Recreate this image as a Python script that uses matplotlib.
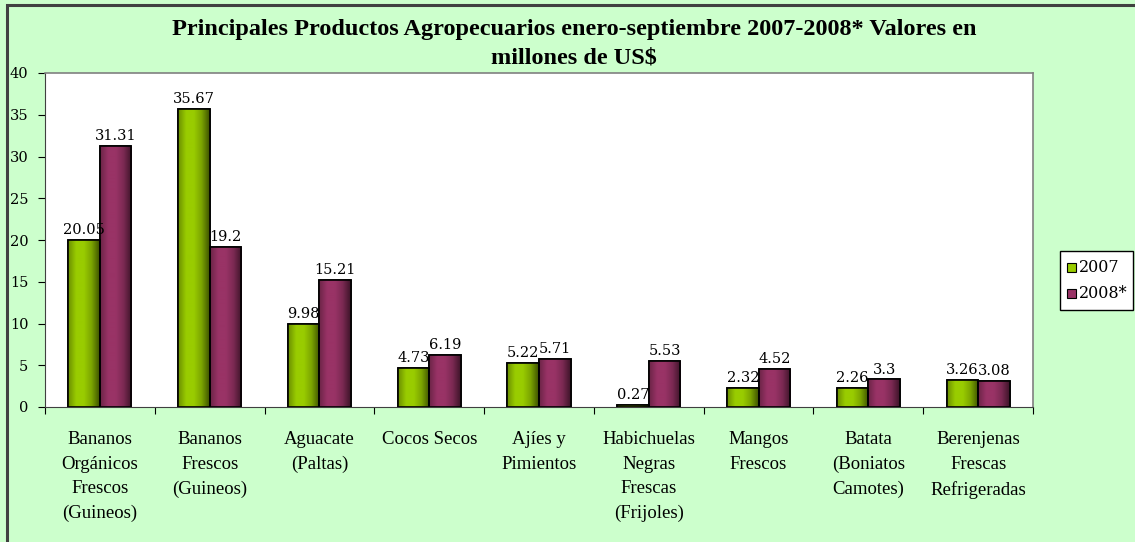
import numpy as np
import matplotlib.pyplot as plt
from matplotlib.patches import Rectangle
from matplotlib.colors import LinearSegmentedColormap

categories = ['Bananos\nOrgánicos\nFrescos\n(Guineos)', 'Bananos\nFrescos\n(Guineos)',
              'Aguacate\n(Paltas)', 'Cocos Secos', 'Ajíes y\nPimientos',
              'Habichuelas\nNegras\nFrescas\n(Frijoles)', 'Mangos\nFrescos',
              'Batata\n(Boniatos\nCamotes)', 'Berenjenas\nFrescas\nRefrigeradas']
v2007 = [20.05, 35.67, 9.98, 4.73, 5.22, 0.27, 2.32, 2.26, 3.26]
v2008 = [31.31, 19.2, 15.21, 6.19, 5.71, 5.53, 4.52, 3.3, 3.08]
lab2007 = ['20.05', '35.67', '9.98', '4.73', '5.22', '0.27', '2.32', '2.26', '3.26']
lab2008 = ['31.31', '19.2', '15.21', '6.19', '5.71', '5.53', '4.52', '3.3', '3.08']
series = ['2007', '2008*']

W, H = 1135, 542
bg = '#CCFFCC'
serif = ['Liberation Serif', 'DejaVu Serif']
numfont = ['DejaVu Serif']
plt.rcParams['font.family'] = serif

fig = plt.figure(figsize=(W / 100, H / 100), dpi=100, facecolor=bg)
ax = fig.add_axes([45 / W, 1 - 407 / H, (1033 - 45) / W, (407 - 73) / H])
ax.set_facecolor('white')

# outer frame (cropped on right and bottom)
fig.patches.append(Rectangle((7 / W, -0.05), 1.1, 1 - 5 / H + 0.05, transform=fig.transFigure,
                             fill=False, edgecolor='#404040', linewidth=2.2, zorder=0))

green = LinearSegmentedColormap.from_list('g', ['#6b8f00', '#99CC00', '#99CC00', '#7aa300', '#3d5200'])
purple = LinearSegmentedColormap.from_list('p', ['#6b2447', '#993366', '#993366', '#7a2952', '#3d1429'])
grad = np.linspace(0, 1, 64).reshape(1, -1)

x = np.arange(len(categories))
bw = 0.287


def draw_bars(xs, vals, cmap, color):
    for xi, v in zip(xs, vals):
        r = Rectangle((xi, 0), bw, v, facecolor=color, edgecolor='black', linewidth=1.2, zorder=3)
        ax.add_patch(r)
        im = ax.imshow(grad, cmap=cmap, aspect='auto', extent=(xi, xi + bw, 0, v), zorder=3.5)
        im.set_clip_path(r)
        ax.add_patch(Rectangle((xi, 0), bw, v, fill=False, edgecolor='black', linewidth=1.2, zorder=4))


draw_bars(x - bw, v2007, green, '#99CC00')
draw_bars(x, v2008, purple, '#993366')

for xi, v, l in zip(x - bw / 2, v2007, lab2007):
    ax.text(xi, v + 0.35, l, ha='center', va='bottom', fontsize=10.5, family=numfont, zorder=5)
for xi, v, l in zip(x + bw / 2, v2008, lab2008):
    ax.text(xi, v + 0.35, l, ha='center', va='bottom', fontsize=10.5, family=numfont, zorder=5)

ax.set_xlim(-0.5, len(categories) - 0.5)
ax.set_ylim(0, 40)
ax.set_yticks(range(0, 41, 5))
ax.set_xticks(np.arange(-0.5, len(categories), 1))
ax.set_xticklabels([])
ax.tick_params(axis='y', direction='out', length=5, labelsize=10.5, pad=7)
ax.tick_params(axis='x', direction='out', length=5)
for lab in ax.get_yticklabels():
    lab.set_family(numfont)
for i, c in enumerate(categories):
    ax.text(i, -2.9, c, ha='center', va='top', fontsize=13.5, linespacing=1.58)

for s in ['left', 'bottom']:
    ax.spines[s].set_color('#404040')
for s in ['top', 'right']:
    ax.spines[s].set_color('#808080')
    ax.spines[s].set_linewidth(1.2)

fig.text(574 / W, 1 - 30 / H, 'Principales Productos Agropecuarios enero-septiembre 2007-2008* Valores en',
         ha='center', va='center', fontsize=17.5, fontweight='bold')
fig.text(574 / W, 1 - 58 / H, 'millones de US$', ha='center', va='center', fontsize=17.5, fontweight='bold')

# legend box
fig.patches.append(Rectangle((1060 / W, 1 - 310 / H), 73 / W, 59 / H, transform=fig.transFigure,
                             facecolor='white', edgecolor='black', linewidth=1, zorder=1))
for j, (name, col) in enumerate(zip(series, ['#99CC00', '#993366'])):
    yc = 267 + j * 26
    fig.patches.append(Rectangle((1067 / W, 1 - (yc + 4.5) / H), 9 / W, 9 / H, transform=fig.transFigure,
                                 facecolor=col, edgecolor='black', linewidth=0.8, zorder=2))
    fig.text(1079 / W, 1 - yc / H, name, ha='left', va='center', fontsize=11.5, family=numfont, zorder=3)

fig.savefig('out.png', dpi=100, facecolor=bg)
